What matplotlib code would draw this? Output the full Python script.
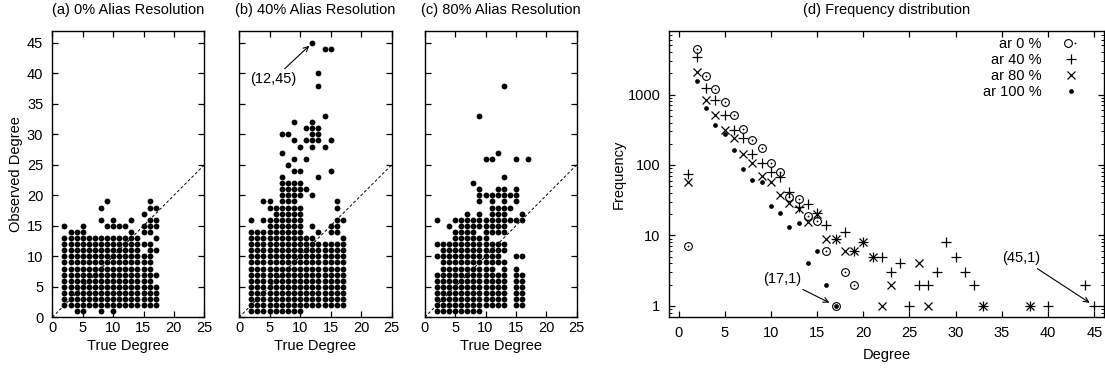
import matplotlib
matplotlib.use('Agg')
import matplotlib.pyplot as plt
from matplotlib.ticker import MultipleLocator, LogLocator, NullFormatter, FixedLocator, FixedFormatter
from matplotlib.legend_handler import HandlerTuple

plt.rcParams['font.family'] = ['Liberation Sans', 'DejaVu Sans']
plt.rcParams['font.size'] = 10.5


def span(lo, hi):
    return list(range(lo, hi + 1))

# ---- scatter data: true degree -> observed degrees present ----
obs_a = {
    2: span(2, 13) + [15],
    3: span(2, 14),
    4: [1] + span(2, 14),
    5: [1] + span(2, 15),
    6: span(2, 13),
    7: span(2, 13),
    8: [1] + span(2, 13) + [16, 18],
    9: span(2, 13) + [15, 19],
    10: [1] + span(2, 13) + [15, 16],
    11: span(2, 13) + [15],
    12: span(2, 13) + [15],
    13: span(2, 13) + [14, 16],
    14: span(2, 13),
    15: span(2, 10) + [12, 14, 15, 17],
    16: span(2, 12) + [14, 15, 16, 18, 19],
    17: [2, 3, 4, 5, 7, 11, 13, 15, 16, 18],
}
obs_b = {
    2: span(1, 14) + [16],
    3: span(1, 14),
    4: span(1, 14) + [16, 19],
    5: span(1, 16) + [18, 19],
    6: span(1, 18),
    7: span(1, 23) + [27, 30],
    8: span(1, 22) + [25, 30],
    9: span(1, 22) + [24, 26, 29, 32],
    10: span(1, 18) + [20, 21, 22, 24, 28],
    11: span(2, 13) + [21, 26, 29, 31],
    12: span(2, 13) + [15, 20, 28, 29, 30, 31, 32, 45],
    13: span(2, 12) + [14, 23, 29, 30, 31, 38, 40],
    14: span(2, 12) + [28, 33, 44],
    15: span(2, 12) + [14, 15, 24, 29, 44],
    16: span(2, 12) + [14, 15, 16, 18, 19],
    17: span(2, 13) + [16],
}
obs_c = {
    2: span(1, 7) + [10, 12, 16],
    3: span(1, 12),
    4: span(1, 12) + [15],
    5: span(1, 14) + [16],
    6: span(1, 16),
    7: span(1, 17),
    8: span(1, 16) + [22],
    9: span(1, 13) + [15, 16, 17, 19, 20, 21, 33],
    10: span(2, 16) + [20, 26],
    11: span(2, 12) + [14, 15, 16, 17, 18, 19, 20, 26],
    12: span(2, 7) + [9, 10, 11, 12, 14, 15, 16, 17, 18, 20, 21, 27],
    13: span(2, 9) + [11, 12, 14, 15, 16, 17, 18, 19, 20, 21, 23, 38],
    14: [16, 18, 20],
    15: span(2, 8) + [10, 16, 19, 20, 21, 26],
    16: span(2, 7) + [10, 16, 17],
    17: [26],
}
scatter_titles = ['(a) 0% Alias Resolution', '(b) 40% Alias Resolution', '(c) 80% Alias Resolution']

# ---- frequency distribution ----
deg_ar0 = [1, 2, 3, 4, 5, 6, 7, 8, 9, 10, 11, 12, 13, 14, 15, 16, 17, 18, 19]
freq_ar0 = [7, 4500, 1830, 1210, 780, 510, 320, 225, 175, 106, 80, 35, 33, 19, 16, 6, 1, 3, 2]

deg_ar40 = [1, 2, 3, 4, 5, 6, 7, 8, 9, 10, 11, 12, 13, 14, 15, 16, 17, 18, 19, 20, 21, 22, 23,
            24, 25, 26, 27, 28, 29, 30, 31, 32, 33, 38, 40, 44, 45]
freq_ar40 = [74, 3370, 1225, 836, 512, 313, 239, 143, 106, 80, 67, 42, 25, 28, 21, 14, 9, 11, 6, 8,
             5, 5, 3, 4, 1, 2, 2, 3, 8, 5, 3, 2, 1, 1, 1, 2, 1]

deg_ar80 = [1, 2, 3, 4, 5, 6, 7, 8, 9, 10, 11, 12, 13, 14, 15, 16, 17, 18, 19, 20, 21, 22, 23, 26,
            27, 33, 38]
freq_ar80 = [57, 2107, 836, 512, 313, 239, 143, 106, 70, 58, 37, 29, 24, 15.7, 20, 9, 9, 6, 6, 8, 5,
             1, 2, 4, 1, 1, 1]

deg_ar100 = [2, 3, 4, 5, 6, 7, 8, 9, 10, 11, 12, 13, 14, 15, 16, 17]
freq_ar100 = [1554, 637, 366, 275, 163, 87, 61, 58, 26, 21, 13, 15, 4, 6, 2, 1]

legend_labels = ['ar 0 %', 'ar 40 %', 'ar 80 %', 'ar 100 %']

W, H = 1105, 370
fig = plt.figure(figsize=(W / 100, H / 100), dpi=100)


def rect(l, r, t, b):
    return [l / W, 1 - b / H, (r - l) / W, (b - t) / H]


def style(ax, xpad=2.5):
    for s in ax.spines.values():
        s.set_linewidth(1.0)
    ax.tick_params(which='major', direction='in', top=True, right=True, length=4.5, width=0.9,
                   labelsize=10.5)
    ax.tick_params(which='minor', direction='in', top=True, right=True, length=2.3, width=0.7)
    ax.tick_params(axis='x', pad=xpad)
    ax.tick_params(axis='y', pad=6.5)


rects = [rect(52.3, 204.3, 30.7, 317.3), rect(239, 391.7, 30.7, 317.3), rect(424.7, 576.7, 30.7, 317.3)]
for i, (obs, title, rc) in enumerate(zip([obs_a, obs_b, obs_c], scatter_titles, rects)):
    ax = fig.add_axes(rc)
    xs = [x for x, ys in obs.items() for _ in ys]
    ys = [y for x, yl in obs.items() for y in yl]
    ax.axline((0, 0), slope=1, color='k', lw=0.7, ls=(0, (3, 2.2)), zorder=1)
    ax.plot(xs, ys, 'o', color='k', ms=4.2, mew=0, zorder=2)
    ax.set_xlim(0, 25)
    ax.set_ylim(0, 47)
    ax.xaxis.set_major_locator(MultipleLocator(5))
    ax.yaxis.set_major_locator(MultipleLocator(5))
    style(ax)
    ax.set_title(title, fontsize=10.5, pad=12)
    ax.set_xlabel('True Degree', fontsize=10.5, labelpad=3)
    if i == 0:
        ax.set_ylabel('Observed Degree', fontsize=10.5, labelpad=3)
    else:
        ax.tick_params(axis='y', labelleft=False)
    if i == 1:
        ax.annotate('(12,45)', xy=(12, 45), xytext=(5.6, 39), ha='center', va='center',
                    fontsize=10.5,
                    arrowprops=dict(arrowstyle='->', color='k', lw=0.8, shrinkA=1, shrinkB=3,
                                    mutation_scale=9))

axD = fig.add_axes(rect(669.3, 1103.5, 31, 316.7))
axD.set_yscale('log')
h0 = axD.plot(deg_ar0, freq_ar0, 'o', mfc='none', mec='k', ms=5.6, mew=0.8, zorder=3)[0]
h0c = axD.plot(deg_ar0, freq_ar0, 'o', color='k', ms=1.3, mew=0, zorder=3)[0]
h40 = axD.plot(deg_ar40, freq_ar40, '+', color='k', ms=7, mew=0.9, zorder=3)[0]
h80 = axD.plot(deg_ar80, freq_ar80, 'x', color='k', ms=5.5, mew=0.9, zorder=3)[0]
h100 = axD.plot(deg_ar100, freq_ar100, 'o', color='k', ms=3.4, mew=0, zorder=3)[0]
axD.set_xlim(-1, 46)
axD.set_ylim(0.7, 8000)
axD.xaxis.set_major_locator(MultipleLocator(5))
axD.yaxis.set_major_locator(FixedLocator([1, 10, 100, 1000]))
axD.yaxis.set_major_formatter(FixedFormatter(['1', '10', '100', '1000']))
axD.yaxis.set_minor_locator(LogLocator(base=10, subs=range(2, 10)))
axD.yaxis.set_minor_formatter(NullFormatter())
style(axD, xpad=6.5)
axD.set_title('(d) Frequency distribution', fontsize=10.5, pad=12)
axD.set_xlabel('Degree', fontsize=10.5, labelpad=6)
axD.set_ylabel('Frequency', fontsize=10.5, labelpad=1)

leg = axD.legend([(h0, h0c), h40, h80, h100], legend_labels, loc='upper right',
                 bbox_to_anchor=(0.9425, 0.978), borderaxespad=0, borderpad=0,
                 frameon=False, markerfirst=False, numpoints=1, handlelength=1.0,
                 handletextpad=1.55, labelspacing=0.13, fontsize=10.5,
                 handler_map={tuple: HandlerTuple(ndivide=None, pad=0)})

axD.annotate('(17,1)', xy=(17, 1), xytext=(11.2, 2.4), ha='center', va='center', fontsize=10.5,
             arrowprops=dict(arrowstyle='->', color='k', lw=0.8, shrinkA=1, shrinkB=5,
                             mutation_scale=9))
axD.annotate('(45,1)', xy=(45, 1), xytext=(37.1, 4.75), ha='center', va='center', fontsize=10.5,
             arrowprops=dict(arrowstyle='->', color='k', lw=0.8, shrinkA=1, shrinkB=4,
                             mutation_scale=9))

fig.savefig('out.png', dpi=100)
